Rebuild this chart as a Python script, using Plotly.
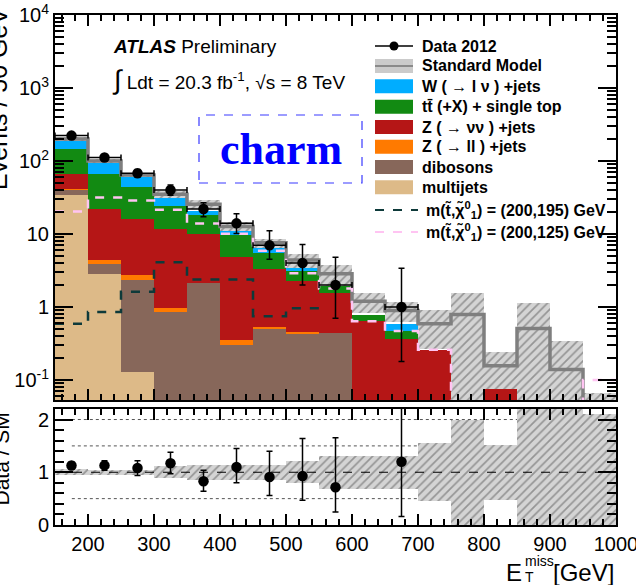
import numpy as np
import plotly.graph_objects as go

# ---------------- data ----------------
bin_edges = [150, 200, 250, 300, 350, 400, 450, 500, 550, 600, 650, 700, 750, 800, 850, 900, 950, 1000]

multijets = [34.5, 2.8, 0.13, 0, 0, 0, 0, 0, 0, 0, 0, 0, 0, 0, 0, 0, 0]
dibosons  = [5.0, 1.04, 2.2, 0.86, 2.15, 0.30, 0.50, 0.43, 0.44, 0, 0, 0, 0, 0, 0, 0, 0]
z_ll      = [2.0, 0.55, 0.38, 0.12, 0.0, 0.05, 0.03, 0.03, 0, 0, 0, 0, 0, 0, 0, 0, 0]
z_nunu    = [25, 17.8, 13.5, 10.9, 7.85, 4.45, 2.84, 1.8, 1.13, 0.645, 0.36, 0.26, 0, 0.078, 0, 0, 0]
ttbar     = [81, 44.5, 27.4, 12, 8.4, 4.8, 2.1, 0.84, 0.35, 0.145, 0.11, 0, 0, 0, 0, 0, 0]
w_jets    = [42, 26, 17.5, 7.8, 2.4, 1.5, 1.1, 0.3, 0.12, 0, 0.11, 0, 0, 0, 0, 0, 0]

sm_total  = [200, 100, 64.5, 35, 25.5, 12.7, 7.6, 4.4, 2.85, 1.2, 0.9, 0.59, 0.79, 0.157, 0.51, 0.14, 0.032]
sm_relerr = [0.06, 0.05, 0.05, 0.11, 0.14, 0.14, 0.14, 0.21, 0.31, 0.31, 0.31, 0.55, 1.0, 0.52, 1.2, 1.43, 1.1]

sig_200_195 = [0.59, 0.855, 1.62, 4.1, 2.39, 2.39, 0.75, 0.96, 0.79, None, None, None, None, None, None, None, None]
sig_200_125 = [20.4, 31.6, 28.8, 21.5, 13.9, 10.1, 5.9, 2.9, 1.8, 0.64, 0.47, 0.26, 0.001, 0.001, 0.001, 0.001, 0.1]

data_x    = [175, 225, 275, 325, 375, 425, 475, 525, 575, 675]
data_y    = [223, 112, 68, 40, 22, 14, 7, 4, 2, 1]
data_eup  = [15, 11, 8.6, 6.8, 4.8, 4.9, 4.1, 3.2, 2.8, 2.4]
data_edn  = [15, 11, 8.0, 6.0, 4.8, 3.8, 2.5, 2.0, 1.3, 0.82]

ratio_y   = [1.127, 1.13, 1.08, 1.17, 0.83, 1.10, 0.91, 0.93, 0.715, 1.2]
ratio_eup = [0.07, 0.09, 0.14, 0.21, 0.21, 0.35, 0.49, 0.71, 0.94, 1.6]
ratio_edn = [0.07, 0.09, 0.14, 0.20, 0.19, 0.30, 0.35, 0.46, 0.47, 1.04]

x_tick_vals = [200, 300, 400, 500, 600, 700, 800, 900, 1000]
y_tick_vals = [0.1, 1, 10, 100, 1000, 10000]
y_tick_text = ["10<sup>-1</sup>", "1", "10", "10<sup>2</sup>", "10<sup>3</sup>", "10<sup>4</sup>"]
r_tick_vals = [0, 1, 2]
r_dotted = [0.5, 1.5, 2.0]

colors = {
    "W": "#00ADFF", "tt": "#128A12", "Zvv": "#B51616", "Zll": "#FF7A00",
    "dib": "#87675A", "mj": "#DDBA88",
}

# ---------------- derived ----------------
edges = np.array(bin_edges, dtype=float)
centers = 0.5 * (edges[:-1] + edges[1:])
widths = np.diff(edges)

components = [("mj", multijets), ("dib", dibosons), ("Zll", z_ll), ("Zvv", z_nunu), ("tt", ttbar), ("W", w_jets)]
cum = np.cumsum(np.array([c[1] for c in components], dtype=float), axis=0)

sm = np.array(sm_total)
rel = np.array(sm_relerr)
band_lo = np.clip(sm * (1 - rel), 1e-3, None)
band_hi = sm * (1 + rel)
r_lo = np.clip(1 - rel, 0, None)
r_hi = 1 + rel

FONT = "Liberation Sans, Arial, Helvetica, sans-serif"

fig = go.Figure()

# stacked histogram: draw cumulative totals from top component down
for i in range(len(components) - 1, -1, -1):
    name, _ = components[i]
    vals = cum[i]
    fig.add_trace(go.Bar(x=centers, y=np.where(vals > 0, vals, np.nan), width=widths,
                         marker=dict(color=colors[name], line=dict(width=0)),
                         xaxis="x", yaxis="y", showlegend=False))

hatch = dict(shape="/", fgcolor="#555555", bgcolor="#d4d4d4", size=6, solidity=0.28)

# SM uncertainty band (main)
fig.add_trace(go.Bar(x=centers, y=band_hi - band_lo, base=band_lo, width=widths,
                     marker=dict(color="#d4d4d4", pattern=hatch, line=dict(width=0)),
                     xaxis="x", yaxis="y", showlegend=False))

def step(vals):
    return list(edges), list(vals) + [vals[-1]]

sx, sy = step(sm_total)
fig.add_trace(go.Scatter(x=sx, y=sy, mode="lines", line=dict(color="#7f7f7f", width=3.5, shape="hv"),
                         xaxis="x", yaxis="y", showlegend=False))

sx, sy = step(sig_200_125)
fig.add_trace(go.Scatter(x=sx, y=sy, mode="lines", connectgaps=False,
                         line=dict(color="#FFC4F2", width=2.5, dash="dash", shape="hv"),
                         xaxis="x", yaxis="y", showlegend=False))
sx, sy = step(sig_200_195)
fig.add_trace(go.Scatter(x=sx, y=sy, mode="lines", connectgaps=False,
                         line=dict(color="#0E3A3A", width=2.5, dash="dash", shape="hv"),
                         xaxis="x", yaxis="y", showlegend=False))

# data
fig.add_trace(go.Scatter(x=data_x, y=data_y, mode="markers",
                         marker=dict(color="black", size=10.5),
                         error_y=dict(type="data", symmetric=False, array=data_eup, arrayminus=data_edn,
                                      color="black", thickness=1.5, width=3),
                         error_x=dict(type="constant", value=25, color="black", thickness=1.5, width=3),
                         xaxis="x", yaxis="y", showlegend=False))

# ratio band
fig.add_trace(go.Bar(x=centers, y=r_hi - r_lo, base=r_lo, width=widths,
                     marker=dict(color="#d4d4d4", pattern=hatch, line=dict(width=0)),
                     xaxis="x2", yaxis="y2", showlegend=False))

fig.add_trace(go.Scatter(x=data_x, y=ratio_y, mode="markers",
                         marker=dict(color="black", size=10.5),
                         error_y=dict(type="data", symmetric=False, array=ratio_eup, arrayminus=ratio_edn,
                                      color="black", thickness=1.5, width=3),
                         xaxis="x2", yaxis="y2", showlegend=False))

# ---------------- layout helpers ----------------
L, R, T, B = 55, 20, 15, 60
W, H = 636, 585
PW, PH = W - L - R, H - T - B

def PX(p):
    return (p - L) / PW

def PY(p):
    return (H - B - p) / PH

shapes = []
annotations = []

# ratio reference lines
for v in r_dotted:
    shapes.append(dict(type="line", xref="paper", yref="y2", x0=0.03, x1=1, y0=v, y1=v,
                       line=dict(color="#555555", width=1, dash="dot"), layer="below"))
shapes.append(dict(type="line", xref="paper", yref="y2", x0=0, x1=1, y0=1, y1=1,
                   line=dict(color="black", width=1, dash="dash")))

# legend
leg_x0, leg_x1, txt_x = 375, 413, 420
rows = [
    ("data", "Data 2012", 46),
    ("sm", "Standard Model", 66),
    ("W", "W ( \u2192 l \u03bd ) +jets", 86.3),
    ("tt", "tt\u0304 (+X) + single top", 106.7),
    ("Zvv", "Z ( \u2192 \u03bd\u03bd ) +jets", 127),
    ("Zll", "Z ( \u2192 ll ) +jets", 146.7),
    ("dib", "dibosons", 167),
    ("mj", "multijets", 187.3),
    ("s195", "m(t\u0303,\u03c7\u0303<sup>0</sup><sub>1</sub>) = (200,195) GeV", 210),
    ("s125", "m(t\u0303,\u03c7\u0303<sup>0</sup><sub>1</sub>) = (200,125) GeV", 232),
]
for key, label, yc in rows:
    tx = txt_x
    if key == "data":
        shapes.append(dict(type="line", xref="paper", yref="paper", x0=PX(leg_x0), x1=PX(leg_x1),
                           y0=PY(yc), y1=PY(yc), line=dict(color="black", width=1.5)))
        shapes.append(dict(type="circle", xref="paper", yref="paper", x0=PX(389.5), x1=PX(398.5),
                           y0=PY(yc + 4.5), y1=PY(yc - 4.5), fillcolor="black", line=dict(width=0)))
    elif key == "sm":
        shapes.append(dict(type="rect", xref="paper", yref="paper", x0=PX(leg_x0), x1=PX(leg_x1),
                           y0=PY(yc + 7), y1=PY(yc - 7), fillcolor="#cbcbcb", line=dict(width=0)))
        shapes.append(dict(type="line", xref="paper", yref="paper", x0=PX(leg_x0), x1=PX(leg_x1),
                           y0=PY(yc), y1=PY(yc), line=dict(color="#8a8a8a", width=2)))
    elif key in colors:
        shapes.append(dict(type="rect", xref="paper", yref="paper", x0=PX(leg_x0), x1=PX(leg_x1),
                           y0=PY(yc + 7), y1=PY(yc - 7), fillcolor=colors[key], line=dict(width=0)))
    else:
        col = "#0E3A3A" if key == "s195" else "#FFC4F2"
        shapes.append(dict(type="line", xref="paper", yref="paper", x0=PX(leg_x0), x1=PX(418),
                           y0=PY(yc), y1=PY(yc), line=dict(color=col, width=2, dash="dash")))
        tx = 424
    annotations.append(dict(xref="paper", yref="paper", x=PX(tx), y=PY(yc), xanchor="left", yanchor="middle",
                            text="<b>" + label + "</b>", showarrow=False,
                            font=dict(family=FONT, size=16, color="black")))

# ATLAS label
annotations.append(dict(xref="paper", yref="paper", x=PX(111), y=PY(46), xanchor="left", yanchor="middle",
                        text="<b><i>ATLAS</i></b> Preliminary", showarrow=False,
                        font=dict(family=FONT, size=19, color="black")))
annotations.append(dict(xref="paper", yref="paper", x=PX(110), y=PY(80), xanchor="left", yanchor="middle",
                        text="<span style='font-size:27px'>\u222b</span> Ldt = 20.3 fb<sup>-1</sup>, \u221as = 8 TeV",
                        showarrow=False, font=dict(family=FONT, size=19, color="black")))

# charm box
shapes.append(dict(type="rect", xref="paper", yref="paper", x0=PX(199), x1=PX(362), y0=PY(183), y1=PY(115),
                   line=dict(color="#3a3aff", width=1.2, dash="dash"), fillcolor="rgba(0,0,0,0)"))
annotations.append(dict(xref="paper", yref="paper", x=PX(281), y=PY(150), xanchor="center", yanchor="middle",
                        text="<b>charm</b>", showarrow=False,
                        font=dict(family="Liberation Serif, DejaVu Serif, serif", size=44, color="#0000ff")))

# axis titles
annotations.append(dict(xref="paper", yref="paper", x=PX(-2), y=PY(6), xanchor="center", yanchor="top",
                        text="Events / 50 GeV", textangle=-90, showarrow=False,
                        font=dict(family=FONT, size=25, color="black")))
annotations.append(dict(xref="paper", yref="paper", x=PX(1), y=PY(411), xanchor="center", yanchor="top",
                        text="Data / SM", textangle=-90, showarrow=False,
                        font=dict(family=FONT, size=21, color="black")))
annotations.append(dict(xref="paper", yref="paper", x=PX(616), y=PY(572), xanchor="right", yanchor="middle",
                        text="[GeV]", showarrow=False, font=dict(family=FONT, size=24, color="black")))
annotations.append(dict(xref="paper", yref="paper", x=PX(523), y=PY(561), xanchor="left", yanchor="middle",
                        text="miss", showarrow=False, font=dict(family=FONT, size=14, color="black")))
annotations.append(dict(xref="paper", yref="paper", x=PX(523), y=PY(577), xanchor="left", yanchor="middle",
                        text="T", showarrow=False, font=dict(family=FONT, size=14, color="black")))
annotations.append(dict(xref="paper", yref="paper", x=PX(524), y=PY(572), xanchor="right", yanchor="middle",
                        text="E", showarrow=False, font=dict(family=FONT, size=24, color="black")))

axis_common = dict(showline=True, linewidth=2, linecolor="black", mirror="allticks",
                   ticks="inside", tickcolor="black", showgrid=False, zeroline=False, automargin=False,
                   ticklabeloverflow="allow")

y_minor = [m * 10.0 ** k for k in range(-2, 4) for m in range(2, 10)]
r_minor = [round(0.2 * i, 1) for i in range(0, 12)]

fig.update_layout(
    width=W, height=H,
    margin=dict(l=L, r=R, t=T, b=B, autoexpand=False),
    paper_bgcolor="white", plot_bgcolor="white",
    barmode="overlay", bargap=0,
    showlegend=False,
    font=dict(family=FONT, size=20, color="black"),
    xaxis=dict(domain=[0, 1], range=[150, 1000], anchor="y", tickvals=x_tick_vals, showticklabels=False,
               ticklen=11, tickwidth=1.5,
               minor=dict(ticks="inside", ticklen=6, dtick=20, tick0=0, tickcolor="black", showgrid=False),
               **axis_common),
    yaxis=dict(domain=[0.245, 1], type="log", range=[-1.274, 4.0], anchor="x",
               tickvals=y_tick_vals, ticktext=y_tick_text, ticklen=18, tickwidth=1.5,
               tickfont=dict(family=FONT, size=20),
               minor=dict(ticks="inside", ticklen=9, tickvals=y_minor, tickcolor="black", showgrid=False),
               **axis_common),
    xaxis2=dict(domain=[0, 1], range=[150, 1000], anchor="y2", matches="x", tickvals=x_tick_vals,
                ticklen=11, tickwidth=1.5, tickfont=dict(family=FONT, size=20),
                minor=dict(ticks="inside", ticklen=6, dtick=20, tick0=0, tickcolor="black", showgrid=False),
                **axis_common),
    yaxis2=dict(domain=[0, 0.2275], range=[0, 2.2], anchor="x2", tickvals=r_tick_vals,
                ticklen=18, tickwidth=1.5, tickfont=dict(family=FONT, size=20),
                minor=dict(ticks="inside", ticklen=9, tickvals=r_minor, tickcolor="black", showgrid=False),
                **axis_common),
    shapes=shapes,
    annotations=annotations,
)

fig.write_html("out.html")
